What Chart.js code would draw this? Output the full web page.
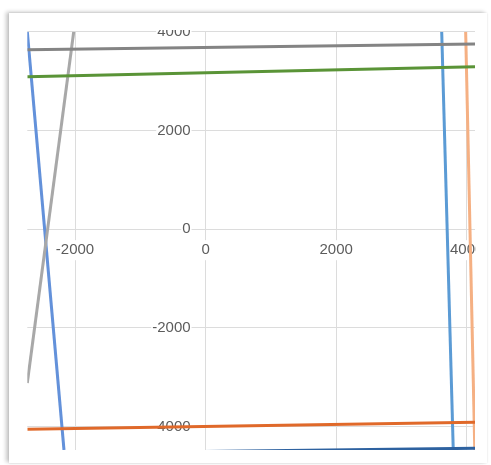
<!DOCTYPE html>
<html>
<head>
<meta charset="utf-8">
<script src="https://cdn.jsdelivr.net/npm/chart.js@4.4.1/dist/chart.umd.min.js"></script>
<style>
  html, body { margin: 0; padding: 0; background: #ffffff; }
  body { width: 491px; height: 465px; position: relative; overflow: hidden; }
  .card {
    position: absolute; left: 9px; top: 13px; width: 478px; height: 450px;
    background: #ffffff;
    box-shadow: -3px -1px 4px rgba(0,0,0,0.22), 0 0 2px rgba(0,0,0,0.12);
  }
  #chart { position: absolute; left: 0; top: 0; }
</style>
</head>
<body>
<div class="card"></div>
<canvas id="chart" width="491" height="465"></canvas>
<script>
// Axis ranges and tick values
const xRange = [-2731, 4127];
const yRange = [-4472, 4000];
const xTickValues = [-2000, 0, 2000, 4000];
const yTickValues = [-4000, -2000, 0, 2000, 4000];

// Near-horizontal series (end points)
const darkGrayX = [-2731, 4127];
const darkGrayY = [3635, 3750];
const greenX = [-2731, 4127];
const greenY = [3089, 3291];
const darkOrangeX = [-2731, 4127];
const darkOrangeY = [-4053, -3911];
const darkBlueX = [-2731, 4127];
const darkBlueY = [-4545, -4437];

// Near-vertical series (end points)
const lightGrayX = [-2020, -2731];
const lightGrayY = [4000, -3115];
const blueX = [-2731, -2169];
const blueY = [4000, -4472];
const lightBlueX = [3617, 3794];
const lightBlueY = [4000, -4472];
const lightOrangeX = [3984, 4124];
const lightOrangeY = [4000, -4472];

function pts(xs, ys) {
  return xs.map((x, i) => ({ x: x, y: ys[i] }));
}

function series(xs, ys, color) {
  return {
    data: pts(xs, ys),
    showLine: true,
    borderColor: color,
    backgroundColor: color,
    borderWidth: 3,
    pointRadius: 0,
    pointHoverRadius: 0,
    tension: 0
  };
}

// Crop everything to a frame just around the plot area
const frameClip = {
  id: 'frameClip',
  beforeDraw(chart) {
    const a = chart.chartArea;
    const ctx = chart.ctx;
    ctx.save();
    ctx.beginPath();
    ctx.rect(a.left - 1.2, a.top - 1.8, (a.right + 0.6) - (a.left - 1.2), (a.bottom + 0.6) - (a.top - 1.8));
    ctx.clip();
  },
  afterDraw(chart) {
    chart.ctx.restore();
  }
};

// Keep a gap between the centred value axis and its labels
const yLabelGap = {
  id: 'yLabelGap',
  beforeDraw(chart) {
    const s = chart.scales.y;
    const items = s.getLabelItems(chart.chartArea);
    items.forEach(item => {
      if (!item._gap && item.options && item.options.translation) {
        item.options.translation[0] -= 15;
        item._gap = true;
      }
    });
  }
};

// Centred axes should not shrink the plot area
function noEdgePadding(scale) {
  scale.paddingLeft = 0;
  scale.paddingRight = 0;
  scale.paddingTop = 0;
  scale.paddingBottom = 0;
}

const tickFont = { family: '"Liberation Sans", Arial, sans-serif', size: 15 };

new Chart(document.getElementById('chart'), {
  type: 'scatter',
  data: {
    // first datasets are painted last (on top)
    datasets: [
      series(darkGrayX, darkGrayY, '#848484'),
      series(greenX, greenY, '#5a9437'),
      series(darkOrangeX, darkOrangeY, '#e0692a'),
      series(darkBlueX, darkBlueY, '#2e62a0'),
      series(lightGrayX, lightGrayY, '#a8a8a8'),
      series(blueX, blueY, '#6391da'),
      series(lightBlueX, lightBlueY, '#5b9bd5'),
      series(lightOrangeX, lightOrangeY, '#f5b083')
    ]
  },
  options: {
    responsive: false,
    animation: false,
    events: [],
    layout: { padding: { left: 27.3, top: 31.7, right: 16, bottom: 15 } },
    plugins: { legend: { display: false }, tooltip: { enabled: false } },
    scales: {
      x: {
        type: 'linear',
        min: xRange[0],
        max: xRange[1],
        position: { y: 0 },
        afterBuildTicks: axis => { axis.ticks = xTickValues.map(v => ({ value: v })); },
        afterFit: noEdgePadding,
        grid: { color: '#dcdcdc', lineWidth: 1, drawTicks: false },
        border: { display: false },
        ticks: {
          autoSkip: false,
          maxRotation: 0,
          padding: 12,
          color: '#5c5c5c',
          font: tickFont,
          showLabelBackdrop: true,
          backdropColor: '#ffffff',
          backdropPadding: 1,
          callback: v => String(v)
        }
      },
      y: {
        type: 'linear',
        min: yRange[0],
        max: yRange[1],
        position: { x: 0 },
        afterBuildTicks: axis => { axis.ticks = yTickValues.map(v => ({ value: v })); },
        afterFit: noEdgePadding,
        grid: { color: '#dcdcdc', lineWidth: 1, drawTicks: false },
        border: { display: false },
        ticks: {
          autoSkip: false,
          padding: 0,
          color: '#5c5c5c',
          font: tickFont,
          showLabelBackdrop: true,
          backdropColor: '#ffffff',
          backdropPadding: 1,
          callback: v => String(v)
        }
      }
    }
  },
  plugins: [frameClip, yLabelGap]
});
</script>
</body>
</html>
